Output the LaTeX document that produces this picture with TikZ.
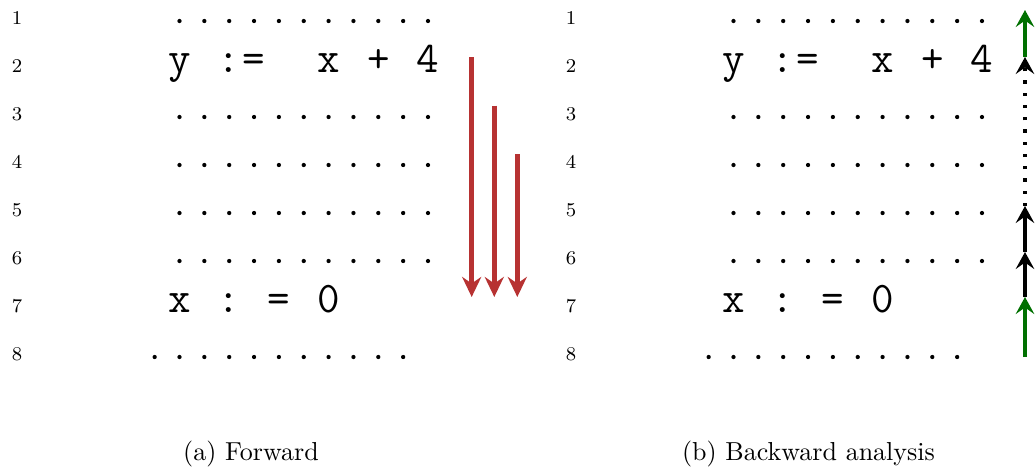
\documentclass[tikz,border=0pt]{standalone}
\usepackage{fontspec}
\usetikzlibrary{arrows.meta}
\definecolor{fwdred}{RGB}{183,50,50}
\definecolor{bwdgreen}{RGB}{0,112,0}
\tikzset{
  lineno/.style={font=\fontsize{7.8}{9}\selectfont,anchor=base,inner sep=0pt},
  code/.style={font=\ttfamily\fontsize{17.5}{19}\selectfont,anchor=base,inner sep=0pt},
  caption/.style={font=\fontsize{10.4}{12}\selectfont,anchor=base,inner sep=0pt},
  fwd/.style={draw=fwdred,line width=1.8pt,-{Stealth[length=8pt,width=7.6pt,inset=2.6pt]}},
  bwd/.style={line width=1.3pt,-{Stealth[length=6.8pt,width=7.4pt,inset=2.6pt]}}
}
\begin{document}
\begin{tikzpicture}[x=.4pt,y=-.4pt]
\useasboundingbox (0,0) rectangle (1036,468);
% two listings, (b) shifted by 554
\foreach \p/\o in {a/0,b/554}{
  \foreach \r in {1,...,8}{\node[lineno] (\p n\r) at (17+\o,24+48*\r-48) {\r};}
  \foreach \r in {1,3,4,5,6}{\foreach \k in {0,...,10}{\fill (179.5+\o+24.85*\k,21+48*\r-48) circle (.85pt);}}
  \foreach \k in {-1,...,9}{\fill (179.5+\o+24.85*\k,357) circle (.85pt);}
  \foreach \c/\k in {y/0,:/2,=/3,x/6,+/8,4/10}{\node[code] (\p y\k) at (179.5+\o+24.85*\k,72) {\c};}
  \foreach \c/\k in {x/0,:/2,=/4,0/6}{\node[code] (\p x\k) at (179.5+\o+24.85*\k,312) {\c};}
}
\node[caption] (capa) at (251,460) {(a) Forward};
\node[caption] (capb) at (808.5,460) {(b) Backward analysis};
% forward
\coordinate (f2) at (471.7,57); \coordinate (f3) at (494.3,105.5); \coordinate (f4) at (517.3,154);
\foreach \c in {2,3,4}{\coordinate (e\c) at (f\c |- 0,297);}
\foreach \c in {2,3,4}{\draw[fwd] (f\c)--(e\c);}
% backward
\coordinate (t8) at (1025,357); \coordinate (t7) at (1025,297); \coordinate (t6) at (1025,252);
\coordinate (t5) at (1025,206); \coordinate (t2) at (1025,57); \coordinate (t1) at (1025,10);
\draw[bwd,bwdgreen] (t8)--(t7);
\draw[bwd] (t7)--(t6);
\draw[bwd] (t6)--(t5);
\draw[bwd,dash pattern=on 1.3pt off 3.6pt] (t5)--(t2);
\draw[bwd,bwdgreen] (t2)--(t1);
\end{tikzpicture}
\end{document}
